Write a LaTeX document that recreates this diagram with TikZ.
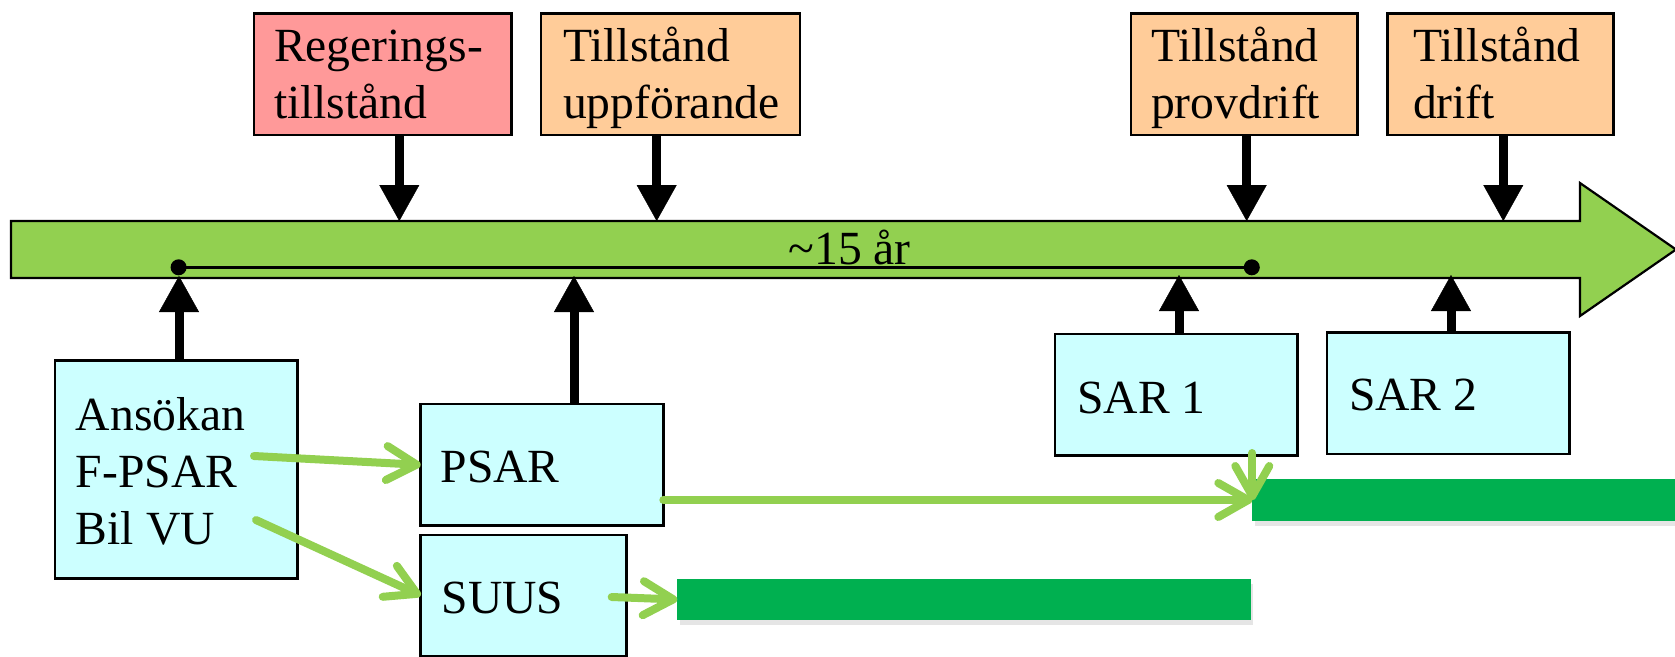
\documentclass[tikz,border=0pt]{standalone}
\usepackage{fontspec}
\setmainfont{Liberation Serif}
\usetikzlibrary{arrows.meta,shadows,fit}
\definecolor{pinkfill}{HTML}{FF9999}
\definecolor{orangefill}{HTML}{FFCC99}
\definecolor{cyanfill}{HTML}{CCFFFF}
\definecolor{lgreen}{HTML}{92D050}
\definecolor{dgreen}{HTML}{00B050}
\begin{document}
\begin{tikzpicture}[x=0.25pt,y=-0.25pt,
  every node/.style={font=\fontsize{11.9pt}{14.3pt}\selectfont, inner sep=0pt, outer sep=0pt},
  box/.style={draw=black, line width=0.65pt, rectangle, inner sep=0pt},
  lbl/.style={anchor=base west},
  blk/.style={line width=2.25pt, -{Triangle[length=9pt,width=10pt,line width=0.1pt]}},
  grn/.style={draw=lgreen, line width=2pt, line cap=round, -{Straight Barb[length=7.5pt,width=8.5pt,round]}},
  bar/.style={fill=dgreen, draw=none, rectangle, inner sep=0pt,
    drop shadow={shadow xshift=0.6pt, shadow yshift=-1.2pt, opacity=0.1, fill=black}},
  bigarrow/.style={fill=lgreen, draw=black, line width=0.55pt, line join=miter}]
\useasboundingbox (0,0) rectangle (1675,656);

% timeline arrow
\draw[bigarrow] (11,221) -- (1580,221) -- (1580,183) -- (1676,249.5) -- (1580,316) -- (1580,278) -- (11,278) -- cycle;

% ~15 years span
\coordinate (d1) at (178.6,267.3);
\coordinate (d2) at (1251.8,267.3);
\draw[line width=0.75pt] (d1) -- (d2);
\fill (d1) circle[radius=2pt];
\fill (d2) circle[radius=2pt];
\node[anchor=base] (span) at (849.7,264) {\textasciitilde 15 år};

% top boxes
\node[box, fill=pinkfill, fit={(254,13.3) (511.7,135)}] (reg) {};
\node[box, fill=orangefill, fit={(541,13.3) (800,135)}] (upp) {};
\node[box, fill=orangefill, fit={(1131,13.3) (1357.3,135)}] (prov) {};
\node[box, fill=orangefill, fit={(1387.3,13.3) (1613.3,135)}] (drift) {};
\node[lbl] (regt) at (274,61.5) {\begin{tabular}[t]{@{}l@{}}Regerings-\\tillstånd\end{tabular}};
\node[lbl] (uppt) at (563,61.5) {\begin{tabular}[t]{@{}l@{}}Tillstånd\\uppförande\end{tabular}};
\node[lbl] (provt) at (1151,61.5) {\begin{tabular}[t]{@{}l@{}}Tillstånd\\provdrift\end{tabular}};
\node[lbl] (driftt) at (1413,61.5) {\begin{tabular}[t]{@{}l@{}}Tillstånd\\drift\end{tabular}};

% bottom boxes
\node[box, fill=cyanfill, fit={(55,360.7) (297.7,578.3)}] (ans) {};
\node[box, fill=cyanfill, fit={(420.7,404) (663.3,525.7)}] (psar) {};
\node[box, fill=cyanfill, fit={(420.7,535) (626.7,656)}] (suus) {};
\node[box, fill=cyanfill, fit={(1055,334) (1297.7,455.7)}] (sar1) {};
\node[box, fill=cyanfill, fit={(1327,332.3) (1569.5,454)}] (sar2) {};
\node[lbl] (anst) at (76,430) {\begin{tabular}[t]{@{}l@{}}Ansökan\\F-PSAR\\Bil VU\end{tabular}};
\node[lbl] (psart) at (440.7,482.3) {PSAR};
\node[lbl] (suust) at (441.7,613.3) {SUUS};
\node[lbl] (sar1t) at (1077.3,413.3) {SAR 1};
\node[lbl] (sar2t) at (1349,410) {SAR 2};

% green bars
\node[bar, fit={(677.3,579) (1251,620)}] (bar1) {};
\node[bar, fit={(1252.3,479.3) (1676,520.7)}] (bar2) {};

% black arrows down to the timeline
\coordinate (t1) at (399.3,221);
\coordinate (t2) at (656.7,221);
\coordinate (t3) at (1246.7,221);
\coordinate (t4) at (1503.3,221);
\draw[blk] (reg.south -| t1) -- (t1);
\draw[blk] (upp.south -| t2) -- (t2);
\draw[blk] (prov.south -| t3) -- (t3);
\draw[blk] (drift.south -| t4) -- (t4);

% black arrows up to the timeline
\coordinate (u1) at (179,276);
\coordinate (u2) at (574,276);
\coordinate (u3) at (1179,275);
\coordinate (u4) at (1451,275);
\draw[blk] (ans.north -| u1) -- (u1);
\draw[blk] (psar.north -| u2) -- (u2);
\draw[blk] (sar1.north -| u3) -- (u3);
\draw[blk] (sar2.north -| u4) -- (u4);

% green arrows
\coordinate (a1) at (254,456);
\coordinate (a2) at (256,520);
\coordinate (s1) at (611.7,597);
\coordinate (sr) at (1252.3,453);
\draw[grn] (a1) -- (psar.west);
\draw[grn] (a2) -- (suus.west);
\draw[grn] (s1) -- (bar1.west);
\draw[grn] (psar.east |- bar2.west) -- (bar2.west);
\draw[grn] (sr) -- (bar2.west);
\end{tikzpicture}
\end{document}
